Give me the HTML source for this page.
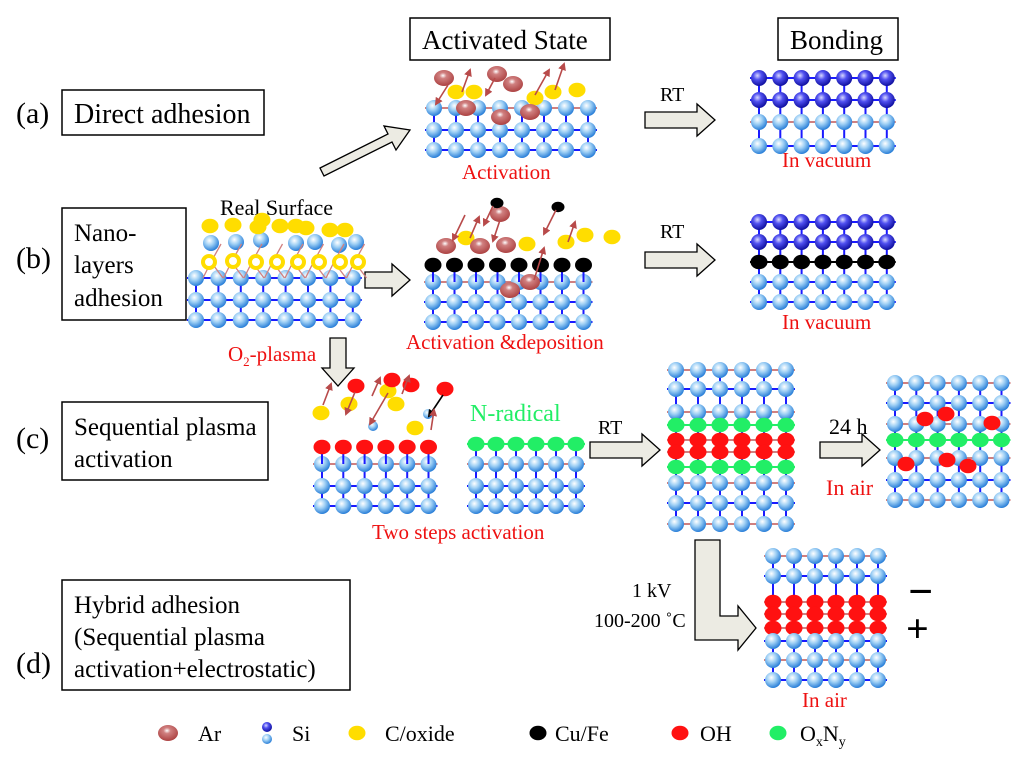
<!DOCTYPE html>
<html><head><meta charset="utf-8"><style>
body{margin:0;background:#fff}
svg{display:block}
text{font-family:"Liberation Serif",serif}
</style></head><body>
<svg id="s" width="1024" height="757" viewBox="0 0 1024 757" xmlns="http://www.w3.org/2000/svg">
<defs>
<radialGradient id="si" cx="40%" cy="35%" r="65%"><stop offset="0" stop-color="#ffffff"/><stop offset="0.45" stop-color="#9fd0f5"/><stop offset="1" stop-color="#2a7fd8"/></radialGradient>
<radialGradient id="sid" cx="40%" cy="35%" r="65%"><stop offset="0" stop-color="#d8d8ff"/><stop offset="0.4" stop-color="#5050f0"/><stop offset="1" stop-color="#1010a0"/></radialGradient>
<radialGradient id="ar" cx="45%" cy="35%" r="60%"><stop offset="0" stop-color="#fff"/><stop offset="0.3" stop-color="#d08080"/><stop offset="1" stop-color="#b04848"/></radialGradient>
<marker id="ma" markerWidth="8" markerHeight="8" refX="6" refY="4" orient="auto" markerUnits="userSpaceOnUse"><path d="M0,0 L8,4 L0,8 z" fill="#b84a4a"/></marker>
<marker id="mk" markerWidth="8" markerHeight="8" refX="6" refY="4" orient="auto" markerUnits="userSpaceOnUse"><path d="M0,0 L8,4 L0,8 z" fill="#000"/></marker>
</defs>
<g fill="none" stroke="#000" stroke-width="1.5">
<rect x="410" y="18" width="200" height="42"/>
<rect x="778" y="18" width="120" height="42"/>
<rect x="62" y="90" width="202" height="45"/>
<rect x="62" y="208" width="124" height="112"/>
<rect x="62" y="402" width="206" height="78"/>
<rect x="62" y="580" width="288" height="110"/>
</g>
<g font-size="25" fill="#000">
<text x="422" y="49" font-size="27">Activated State</text>
<text x="790" y="49" font-size="27">Bonding</text>
<text x="16" y="123" font-size="30">(a)</text>
<text x="16" y="268" font-size="30">(b)</text>
<text x="16" y="448" font-size="30">(c)</text>
<text x="16" y="673" font-size="30">(d)</text>
<text x="74" y="123" font-size="28">Direct adhesion</text>
<text x="74" y="241">Nano-</text>
<text x="74" y="273">layers</text>
<text x="74" y="306">adhesion</text>
<text x="74" y="435">Sequential plasma</text>
<text x="74" y="467">activation</text>
<text x="74" y="613">Hybrid adhesion</text>
<text x="74" y="645">(Sequential plasma</text>
<text x="74" y="677">activation+electrostatic)</text>
</g>
<g font-size="20" fill="#000">
<text x="660" y="101">RT</text>
<text x="660" y="238">RT</text>
<text x="598" y="434">RT</text>
<text x="829" y="434" font-size="22">24 h</text>
<text x="220" y="215" font-size="22">Real Surface</text>
<text x="632" y="597">1 kV</text>
<text x="594" y="627">100-200 ˚C</text>
</g>
<g font-size="21" fill="#ee1111">
<text x="462" y="179">Activation</text>
<text x="782" y="167">In vacuum</text>
<text x="782" y="329">In vacuum</text>
<text x="406" y="349">Activation &amp;deposition</text>
<text x="228" y="361">O<tspan font-size="13" dy="5">2</tspan><tspan dy="-5">-plasma</tspan></text>
<text x="372" y="539">Two steps activation</text>
<text x="826" y="495" font-size="22">In air</text>
<text x="802" y="707">In air</text>
</g>
<text x="470" y="421" font-size="24" fill="#22ee66" font-family="Liberation Sans">N-radical</text>
<text x="908" y="606" font-size="44" font-weight="bold" font-family="Liberation Sans">−</text>
<text x="906" y="642" font-size="40" font-weight="bold" font-family="Liberation Sans">+</text>
<g fill="#ecebe3" stroke="#000" stroke-width="1.3">
<path d="M645,112 L697,112 L697,104 L715,120 L697,136 L697,128 L645,128z"/>
<path d="M645,252 L697,252 L697,244 L715,260 L697,276 L697,268 L645,268z"/>
<path d="M365,272 L392,272 L392,264 L410,280 L392,296 L392,288 L365,288z"/>
<path d="M590,442 L642,442 L642,434 L660,450 L642,466 L642,458 L590,458z"/>
<path d="M820,442 L862,442 L862,434 L880,450 L862,466 L862,458 L820,458z"/>
<path d="M330,338 L346,338 L346,368 L354,368 L338,386 L322,368 L330,368z"/>
<path d="M320,168 L388,134 L384,126 L410,130 L396,150 L392,142 L324,176z"/>
<path d="M695,540 L720,540 L720,616 L738,616 L738,606 L756,628 L738,650 L738,640 L695,640z"/>
</g>
<g id="g"></g>
<g font-size="22" fill="#000">
<text x="198" y="741">Ar</text>
<text x="292" y="741">Si</text>
<text x="385" y="741">C/oxide</text>
<text x="555" y="741">Cu/Fe</text>
<text x="700" y="741">OH</text>
<text x="800" y="741">O<tspan font-size="14" dy="5">x</tspan><tspan dy="-5">N</tspan><tspan font-size="14" dy="5">y</tspan></text>
</g>
</svg>
<script>
const g=document.getElementById('g');let h='';
const col={si:'url(#si)',sid:'url(#sid)',y:'#ffdd00',k:'#000',r:'#ff1111',gr:'#22ee66'};
function ball(x,y,t,r){r=r||8;
 if(t=='ar'){h+=`<ellipse cx="${x}" cy="${y}" rx="10" ry="8" fill="url(#ar)"/>`;return;}
 if(t=='ring'){h+=`<circle cx="${x}" cy="${y}" r="6" fill="#fff" stroke="#ffdd00" stroke-width="4"/>`;return;}
 if(t=='r'||t=='gr'||t=='y'||t=='k'){h+=`<ellipse cx="${x}" cy="${y}" rx="${r+0.5}" ry="${r-0.8}" fill="${col[t]}"/>`;return;}
 h+=`<circle cx="${x}" cy="${y}" r="${r}" fill="${col[t]}"/>`;}
function lat(x0,dx,n,rows){
 for(let i=0;i<rows.length-1;i++){for(let j=0;j<n;j++){const x=x0+j*dx;
  h+=`<line x1="${x}" y1="${rows[i][0]}" x2="${x}" y2="${rows[i+1][0]}" stroke="#1a1aff" stroke-width="2"/>`;}}
 for(const r of rows){h+=`<line x1="${x0-9}" y1="${r[0]}" x2="${x0+(n-1)*dx+9}" y2="${r[0]}" stroke="${r[2]||'#1a1aff'}" stroke-width="2"/>`;}
 for(const r of rows){for(let j=0;j<n;j++)ball(x0+j*dx,r[0],r[1]);}
}
function arr(x1,y1,x2,y2,k){h+=`<line x1="${x1}" y1="${y1}" x2="${x2}" y2="${y2}" stroke="${k?'#000':'#b84a4a'}" stroke-width="1.6" marker-end="url(#${k?'mk':'ma'})"/>`;}
const P='#d08080';
lat(434,22,8,[[108,'si',P],[130,'si'],[150,'si']]);
[[456,92],[474,92],[535,98],[553,92],[577,90]].forEach(p=>ball(p[0],p[1],'y'));
[[444,78],[497,74],[513,84],[466,108],[501,117],[530,112]].forEach(p=>ball(p[0],p[1],'ar'));
arr(448,85,436,104);arr(462,92,470,70);arr(495,78,486,95);arr(535,95,549,70);arr(555,90,564,64);
lat(759,21.3,7,[[78,'sid'],[100,'sid'],[122,'si',P],[146,'si']]);
lat(196,22.4,8,[[278,'si'],[300,'si'],[320,'si']]);
[[211,243],[236,242],[261,240],[296,243],[315,242],[339,245],[356,242]].forEach(p=>ball(p[0],p[1],'si'));
for(let j=0;j<8;j++){const x=211+j*20.5;h+=`<line x1="${x}" y1="262" x2="${x+12}" y2="278" stroke="${P}" stroke-width="1.3"/><line x1="${x}" y1="262" x2="${x-8}" y2="278" stroke="${P}" stroke-width="1.3"/><line x1="${x}" y1="262" x2="${x+10}" y2="244" stroke="${P}" stroke-width="1.3"/>`;}
[[209,262],[233,261],[256,262],[277,262],[298,262],[319,262],[340,262],[358,262]].forEach(p=>ball(p[0],p[1],'ring'));
[[210,226],[233,225],[258,227],[262,220],[280,226],[296,226],[306,228],[330,230],[345,230]].forEach(p=>ball(p[0],p[1],'y'));
lat(433,21.5,8,[[282,'si',P],[302,'si'],[322,'si']]);
for(let j=0;j<8;j++){const x=433+j*21.5;h+=`<line x1="${x}" y1="265" x2="${x}" y2="282" stroke="#1a1aff" stroke-width="2"/>`;ball(x,265,'k');}
[[466,238],[527,244],[566,242],[585,235],[612,237]].forEach(p=>ball(p[0],p[1],'y'));
[[446,246],[480,246],[500,214],[506,245],[510,290],[530,282]].forEach(p=>ball(p[0],p[1],'ar'));
ball(497,203,'k',6);ball(558,207,'k',6);
arr(465,215,453,240);arr(470,238,479,217);arr(493,206,484,225);arr(500,220,493,241);arr(556,210,544,234);arr(534,280,544,248);arr(568,242,575,222);
lat(759,21.3,7,[[222,'sid'],[242,'sid'],[262,'k','#000'],[282,'si'],[302,'si']]);
lat(322,21.3,6,[[464,'si',P],[486,'si'],[506,'si']]);
for(let j=0;j<6;j++){const x=322+j*21.3;h+=`<line x1="${x}" y1="447" x2="${x}" y2="464" stroke="#1a1aff" stroke-width="2"/>`;ball(x,447,'r');}
[[321,413],[349,404],[388,391],[396,404],[415,428]].forEach(p=>ball(p[0],p[1],'y'));
[[356,386],[392,380],[411,385],[445,389]].forEach(p=>ball(p[0],p[1],'r'));
ball(373,426,'si',5);ball(428,414,'si',5);
arr(323,405,331,384);arr(355,392,346,414);arr(372,396,380,378);arr(388,393,370,424);arr(402,394,409,376);arr(443,395,429,416,1);arr(431,430,434,410);
lat(476,20,6,[[444,'gr','#22ee66'],[464,'si',P],[486,'si'],[506,'si']]);
lat(676,22,6,[[370,'si',P],[389,'si'],[412,'si',P],[425,'gr','#22ee66'],[440,'r',P],[452,'r',P],[467,'gr','#22ee66'],[483,'si',P],[503,'si'],[524,'si',P]]);
lat(895,21.3,6,[[383,'si',P],[403,'si'],[424,'si',P],[440,'gr','#22ee66'],[458,'si',P],[480,'si'],[500,'si',P]]);
[[925,419],[946,414],[992,423],[906,464],[947,460],[968,466]].forEach(p=>ball(p[0],p[1],'r'));
lat(773,21,6,[[556,'si',P],[576,'si'],[602,'r',P],[614,'r',P],[628,'r',P],[641,'si'],[660,'si',P],[680,'si']]);
ball(168,733,'ar');ball(267,727,'sid',5);ball(267,739,'si',5);ball(357,733,'y');ball(538,733,'k');ball(680,733,'r');ball(778,733,'gr');
g.innerHTML=h;
</script>
</body></html>
